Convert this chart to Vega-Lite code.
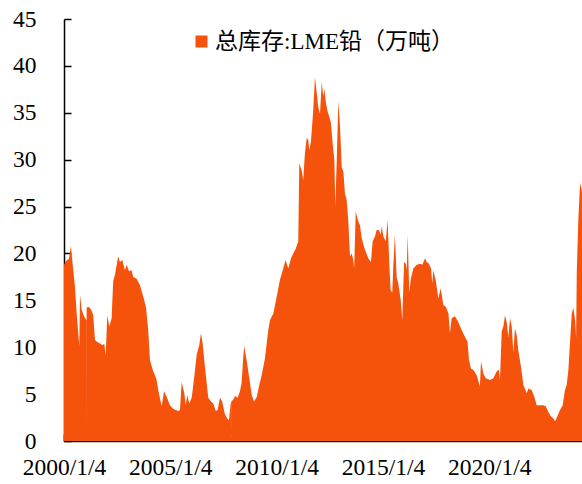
{
  "$schema": "https://vega.github.io/schema/vega-lite/v6.json",
  "width": 518,
  "height": 422,
  "autosize": {"type": "none"},
  "padding": {"left": 64, "top": 19, "right": 0, "bottom": 43},
  "background": "white",
  "config": {"view": {"stroke": null}},
  "data": {"values": [
    {"date": "2000-01-04", "v": 18.8}, {"date": "2000-02-07", "v": 19.2}, {"date": "2000-03-28", "v": 19.4},
    {"date": "2000-05-02", "v": 20.8}, {"date": "2000-06-11", "v": 18.2}, {"date": "2000-07-10", "v": 16.5},
    {"date": "2000-08-09", "v": 13.6}, {"date": "2000-09-23", "v": 10.1}, {"date": "2000-10-05", "v": 15.6},
    {"date": "2000-11-03", "v": 14.0}, {"date": "2000-12-12", "v": 13.3}, {"date": "2001-01-20", "v": 12.9},
    {"date": "2001-01-25", "v": 12.9}, {"date": "2001-01-26", "v": 0.3}, {"date": "2001-01-27", "v": 14.2},
    {"date": "2001-02-20", "v": 14.3}, {"date": "2001-03-24", "v": 14.2}, {"date": "2001-04-28", "v": 13.8},
    {"date": "2001-05-20", "v": 13.4}, {"date": "2001-06-19", "v": 10.8}, {"date": "2001-07-17", "v": 10.6},
    {"date": "2001-09-13", "v": 10.4}, {"date": "2001-10-28", "v": 10.2}, {"date": "2001-11-26", "v": 10.4},
    {"date": "2001-12-20", "v": 9.1}, {"date": "2002-01-17", "v": 13.4}, {"date": "2002-02-21", "v": 12.2},
    {"date": "2002-04-01", "v": 13.1}, {"date": "2002-04-28", "v": 17.0}, {"date": "2002-05-27", "v": 17.7},
    {"date": "2002-07-23", "v": 19.7}, {"date": "2002-08-22", "v": 19.1}, {"date": "2002-10-01", "v": 19.3},
    {"date": "2002-11-16", "v": 18.2}, {"date": "2002-12-15", "v": 18.8}, {"date": "2003-01-24", "v": 18.1},
    {"date": "2003-03-10", "v": 18.2}, {"date": "2003-04-07", "v": 17.5}, {"date": "2003-06-05", "v": 17.3},
    {"date": "2003-08-01", "v": 16.6}, {"date": "2003-09-26", "v": 15.4}, {"date": "2003-11-12", "v": 14.3},
    {"date": "2003-12-21", "v": 11.8}, {"date": "2004-01-20", "v": 8.6}, {"date": "2004-03-16", "v": 7.4},
    {"date": "2004-04-15", "v": 7.0}, {"date": "2004-05-13", "v": 6.5}, {"date": "2004-06-10", "v": 5.4},
    {"date": "2004-08-08", "v": 3.7}, {"date": "2004-09-17", "v": 5.3}, {"date": "2004-11-03", "v": 4.7},
    {"date": "2004-12-28", "v": 3.8}, {"date": "2005-02-25", "v": 3.4}, {"date": "2005-05-19", "v": 3.2},
    {"date": "2005-06-18", "v": 3.3}, {"date": "2005-07-17", "v": 6.3}, {"date": "2005-09-01", "v": 5.1},
    {"date": "2005-09-25", "v": 3.8}, {"date": "2005-10-22", "v": 4.9}, {"date": "2005-11-25", "v": 4.0},
    {"date": "2006-01-06", "v": 4.6}, {"date": "2006-02-20", "v": 6.9}, {"date": "2006-04-01", "v": 9.2},
    {"date": "2006-05-15", "v": 10.2}, {"date": "2006-06-14", "v": 11.5}, {"date": "2006-07-13", "v": 10.4},
    {"date": "2006-08-21", "v": 7.9}, {"date": "2006-09-20", "v": 6.2}, {"date": "2006-10-17", "v": 4.6},
    {"date": "2006-12-03", "v": 4.2}, {"date": "2007-01-12", "v": 4.0}, {"date": "2007-02-23", "v": 3.2},
    {"date": "2007-03-27", "v": 3.3}, {"date": "2007-05-06", "v": 4.6}, {"date": "2007-06-14", "v": 4.2},
    {"date": "2007-07-28", "v": 2.9}, {"date": "2007-09-09", "v": 2.4}, {"date": "2007-10-08", "v": 2.2},
    {"date": "2007-11-07", "v": 4.0}, {"date": "2007-11-14", "v": 4.1}, {"date": "2007-11-15", "v": 0.3},
    {"date": "2007-11-16", "v": 4.2}, {"date": "2007-12-21", "v": 4.4}, {"date": "2008-01-19", "v": 4.8},
    {"date": "2008-03-05", "v": 4.6}, {"date": "2008-04-14", "v": 5.3}, {"date": "2008-05-13", "v": 6.2},
    {"date": "2008-06-10", "v": 9.0}, {"date": "2008-06-27", "v": 10.1}, {"date": "2008-08-07", "v": 8.6},
    {"date": "2008-09-16", "v": 6.9}, {"date": "2008-11-02", "v": 4.9}, {"date": "2008-12-11", "v": 4.2},
    {"date": "2009-01-27", "v": 4.7}, {"date": "2009-03-06", "v": 5.8}, {"date": "2009-04-22", "v": 7.0},
    {"date": "2009-06-17", "v": 8.8}, {"date": "2009-08-13", "v": 11.8}, {"date": "2009-09-12", "v": 12.9},
    {"date": "2009-11-08", "v": 13.6}, {"date": "2010-01-06", "v": 15.4}, {"date": "2010-03-02", "v": 17.2},
    {"date": "2010-04-28", "v": 18.4}, {"date": "2010-06-08", "v": 19.3}, {"date": "2010-07-22", "v": 18.4},
    {"date": "2010-09-08", "v": 19.5}, {"date": "2010-10-17", "v": 20.0}, {"date": "2010-11-28", "v": 20.5},
    {"date": "2011-01-11", "v": 21.3}, {"date": "2011-01-28", "v": 29.6}, {"date": "2011-03-09", "v": 28.9},
    {"date": "2011-04-06", "v": 27.8}, {"date": "2011-05-05", "v": 30.7}, {"date": "2011-06-04", "v": 32.3},
    {"date": "2011-07-01", "v": 32.1}, {"date": "2011-07-18", "v": 31.0}, {"date": "2011-08-16", "v": 31.9},
    {"date": "2011-09-25", "v": 35.3}, {"date": "2011-10-24", "v": 38.8}, {"date": "2011-11-23", "v": 37.2},
    {"date": "2011-12-20", "v": 35.6}, {"date": "2012-01-19", "v": 34.9}, {"date": "2012-02-18", "v": 38.3},
    {"date": "2012-03-15", "v": 36.7}, {"date": "2012-04-02", "v": 37.6}, {"date": "2012-05-01", "v": 36.0},
    {"date": "2012-05-29", "v": 35.1}, {"date": "2012-06-26", "v": 34.6}, {"date": "2012-07-25", "v": 33.9},
    {"date": "2012-08-24", "v": 31.7}, {"date": "2012-09-21", "v": 30.0}, {"date": "2012-10-08", "v": 25.0},
    {"date": "2012-11-02", "v": 30.0}, {"date": "2012-11-29", "v": 36.2}, {"date": "2012-12-28", "v": 33.5},
    {"date": "2013-01-26", "v": 29.2}, {"date": "2013-02-24", "v": 28.7}, {"date": "2013-03-22", "v": 26.4},
    {"date": "2013-04-21", "v": 25.7}, {"date": "2013-05-18", "v": 23.6}, {"date": "2013-06-17", "v": 19.7},
    {"date": "2013-07-16", "v": 20.0}, {"date": "2013-08-13", "v": 19.3}, {"date": "2013-08-28", "v": 18.4},
    {"date": "2013-09-24", "v": 24.5}, {"date": "2013-10-28", "v": 23.6}, {"date": "2013-12-06", "v": 23.0},
    {"date": "2014-01-05", "v": 21.6}, {"date": "2014-03-01", "v": 20.4}, {"date": "2014-04-27", "v": 19.5},
    {"date": "2014-06-13", "v": 19.1}, {"date": "2014-07-11", "v": 21.3}, {"date": "2014-08-20", "v": 21.8},
    {"date": "2014-09-19", "v": 22.5}, {"date": "2014-10-28", "v": 22.5}, {"date": "2014-11-27", "v": 22.0},
    {"date": "2014-12-14", "v": 22.9}, {"date": "2015-01-11", "v": 21.8}, {"date": "2015-02-22", "v": 21.3},
    {"date": "2015-03-25", "v": 23.6}, {"date": "2015-04-23", "v": 18.9}, {"date": "2015-05-16", "v": 16.1},
    {"date": "2015-06-13", "v": 15.8}, {"date": "2015-07-01", "v": 18.6}, {"date": "2015-07-29", "v": 22.0},
    {"date": "2015-08-28", "v": 17.5}, {"date": "2015-09-25", "v": 16.8}, {"date": "2015-11-06", "v": 15.0},
    {"date": "2015-12-03", "v": 12.9}, {"date": "2016-01-02", "v": 19.1}, {"date": "2016-02-01", "v": 18.9},
    {"date": "2016-02-17", "v": 18.2}, {"date": "2016-03-04", "v": 22.0}, {"date": "2016-04-01", "v": 15.8},
    {"date": "2016-04-28", "v": 17.3}, {"date": "2016-06-09", "v": 18.4}, {"date": "2016-08-07", "v": 18.8},
    {"date": "2016-10-03", "v": 18.9}, {"date": "2016-11-12", "v": 18.8}, {"date": "2016-12-27", "v": 19.5},
    {"date": "2017-01-26", "v": 19.1}, {"date": "2017-03-05", "v": 18.9}, {"date": "2017-04-09", "v": 18.4},
    {"date": "2017-05-01", "v": 16.8}, {"date": "2017-05-18", "v": 18.2}, {"date": "2017-06-28", "v": 17.2},
    {"date": "2017-08-13", "v": 15.2}, {"date": "2017-09-23", "v": 16.3}, {"date": "2017-11-07", "v": 14.5},
    {"date": "2017-12-23", "v": 14.3}, {"date": "2018-02-02", "v": 13.6}, {"date": "2018-03-01", "v": 11.5},
    {"date": "2018-03-29", "v": 13.1}, {"date": "2018-05-25", "v": 13.3}, {"date": "2018-07-21", "v": 12.7},
    {"date": "2018-09-19", "v": 11.8}, {"date": "2018-11-14", "v": 11.1}, {"date": "2018-12-27", "v": 10.6},
    {"date": "2019-01-22", "v": 8.6}, {"date": "2019-02-26", "v": 7.7}, {"date": "2019-04-05", "v": 7.6},
    {"date": "2019-06-03", "v": 7.0}, {"date": "2019-07-28", "v": 5.8}, {"date": "2019-08-16", "v": 8.5},
    {"date": "2019-09-25", "v": 7.2}, {"date": "2019-11-05", "v": 6.7}, {"date": "2020-01-18", "v": 6.5},
    {"date": "2020-03-14", "v": 6.7}, {"date": "2020-05-11", "v": 7.4}, {"date": "2020-06-20", "v": 7.6},
    {"date": "2020-07-07", "v": 6.5}, {"date": "2020-08-06", "v": 11.7}, {"date": "2020-09-03", "v": 12.2},
    {"date": "2020-10-02", "v": 13.4}, {"date": "2020-11-01", "v": 12.6}, {"date": "2020-11-28", "v": 11.1},
    {"date": "2020-12-27", "v": 13.1}, {"date": "2021-01-25", "v": 12.2}, {"date": "2021-02-22", "v": 9.4},
    {"date": "2021-03-21", "v": 12.0}, {"date": "2021-04-20", "v": 11.3}, {"date": "2021-05-17", "v": 9.7},
    {"date": "2021-07-03", "v": 7.9}, {"date": "2021-08-12", "v": 6.0}, {"date": "2021-10-10", "v": 5.1},
    {"date": "2021-11-07", "v": 5.6}, {"date": "2022-01-04", "v": 5.4}, {"date": "2022-02-18", "v": 4.7},
    {"date": "2022-03-29", "v": 3.8}, {"date": "2022-05-25", "v": 3.8}, {"date": "2022-07-21", "v": 3.8},
    {"date": "2022-09-01", "v": 3.7}, {"date": "2022-10-16", "v": 3.1}, {"date": "2022-12-01", "v": 2.6},
    {"date": "2023-01-10", "v": 2.4}, {"date": "2023-02-09", "v": 2.1}, {"date": "2023-03-18", "v": 2.6},
    {"date": "2023-05-04", "v": 3.3}, {"date": "2023-06-19", "v": 3.8}, {"date": "2023-07-28", "v": 5.4},
    {"date": "2023-08-27", "v": 6.0}, {"date": "2023-09-24", "v": 7.5}, {"date": "2023-10-23", "v": 10.5},
    {"date": "2023-11-22", "v": 13.6}, {"date": "2023-12-19", "v": 14.2}, {"date": "2024-01-18", "v": 12.9},
    {"date": "2024-02-05", "v": 11.1}, {"date": "2024-02-16", "v": 17.9}, {"date": "2024-03-14", "v": 23.6},
    {"date": "2024-04-13", "v": 27.5}, {"date": "2024-05-11", "v": 26.8}, {"date": "2024-05-16", "v": 26.5}
  ]},
  "mark": {"type": "area", "interpolate": "linear", "clip": true},
  "encoding": {
    "x": {
      "field": "date", "type": "temporal",
      "scale": {"type": "utc", "domain": [{"year": 2000, "month": 1, "date": 4, "utc": true}, {"year": 2024, "month": 5, "date": 16, "utc": true}]},
      "axis": {
        "title": null, "grid": false,
        "values": [
          {"year": 2000, "month": 1, "date": 4, "utc": true},
          {"year": 2005, "month": 1, "date": 4, "utc": true},
          {"year": 2010, "month": 1, "date": 4, "utc": true},
          {"year": 2015, "month": 1, "date": 4, "utc": true},
          {"year": 2020, "month": 1, "date": 4, "utc": true}
        ],
        "labelExpr": "utcFormat(datum.value, '%Y/%-m/%-d')",
        "labelFont": "Liberation Serif", "labelFontSize": 23.5, "labelColor": "#000000",
        "labelPadding": 21, "labelFlush": false, "labelOverlap": false,
        "domainColor": "#000000", "domainWidth": 1.5,
        "tickColor": "#000000", "tickWidth": 1.5, "tickSize": -7
      }
    },
    "y": {
      "field": "v", "type": "quantitative",
      "scale": {"domain": [0, 45], "nice": false, "zero": true},
      "axis": {
        "title": null, "grid": false,
        "values": [0, 5, 10, 15, 20, 25, 30, 35, 40, 45],
        "format": "d",
        "labelFont": "Liberation Serif", "labelFontSize": 23.5, "labelColor": "#000000",
        "labelPadding": 35, "labelFlush": false, "labelOverlap": false,
        "domainColor": "#000000", "domainWidth": 1.5,
        "tickColor": "#000000", "tickWidth": 1.5, "tickSize": -7
      }
    },
    "color": {
      "datum": "总库存:LME铅（万吨）",
      "type": "nominal",
      "scale": {"range": ["#F5520C"]},
      "legend": {
        "title": null, "orient": "none", "legendX": 126, "legendY": 11,
        "padding": 0, "symbolType": "square", "symbolSize": 144, "symbolStrokeWidth": 0,
        "labelFont": "Liberation Serif, Noto Sans CJK SC", "labelFontSize": 23, "labelColor": "#000000",
        "labelOffset": 2, "labelLimit": 400
      }
    }
  }
}
